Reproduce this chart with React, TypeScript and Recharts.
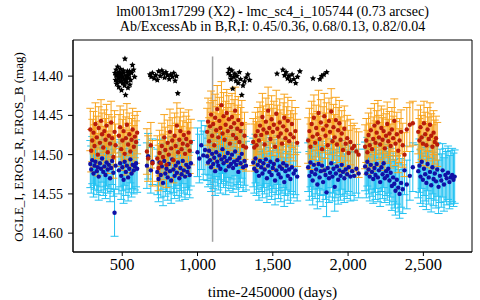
import { ErrorBar, ReferenceArea, ReferenceLine, Scatter, ScatterChart, XAxis, YAxis } from "recharts"

const FONT = "Liberation Serif, DejaVu Serif, serif"

// EROS seasons: days (time-2450000), R mag, B mag (null = no point)
const s1Days = [288, 294, 301, 309, 316, 322, 331, 338, 344, 352, 359, 366, 374, 381, 389, 396, 404, 411, 419, 426, 433, 441, 449, 456, 478, 486, 493, 501, 509, 516, 524, 531, 539, 547, 554, 562, 569, 577, 584, 592, 599]
const s1R = [14.468, 14.495, 14.482, 14.472, 14.489, 14.461, 14.478, 14.5, 14.466, 14.485, 14.457, 14.474, 14.491, 14.47, 14.481, 14.463, 14.497, 14.476, 14.486, 14.459, 14.479, 14.503, 14.471, 14.488, 14.476, 14.465, 14.493, 14.482, 14.47, 14.499, 14.479, 14.462, 14.487, 14.474, 14.496, 14.481, 14.468, 14.49, 14.477, 14.484, 14.472]
const s1B = [14.512, 14.519, 14.507, 14.524, 14.514, 14.509, 14.521, 14.516, 14.528, 14.511, 14.518, 14.505, 14.522, 14.515, 14.526, 14.51, 14.519, 14.513, 14.53, 14.517, 14.508, 14.523, 14.574, 14.514, 14.52, 14.511, 14.527, 14.516, 14.532, 14.509, 14.522, 14.514, 14.529, 14.518, 14.506, 14.524, 14.513, 14.52, 14.515, 14.511, 14.518]

const s2Days = [664, 672, 690, 701, 733, 741, 748, 756, 763, 771, 779, 786, 794, 802, 809, 817, 825, 832, 840, 848, 855, 863, 871, 879, 886, 894, 902, 909, 917, 925, 933, 941, 948, 956]
const s2R = [14.496, 14.505, 14.488, 14.511, 14.505, 14.517, 14.498, 14.511, 14.489, 14.503, 14.478, 14.494, 14.513, 14.485, 14.5, 14.471, 14.492, 14.482, 14.507, 14.476, 14.489, 14.463, 14.497, 14.481, 14.47, 14.493, 14.486, 14.475, 14.499, 14.48, 14.488, 14.472, 14.495, 14.484]
const s2B = [14.514, 14.502, 14.52, 14.509, 14.522, 14.531, 14.51, 14.526, 14.515, 14.536, 14.508, 14.524, 14.518, 14.529, 14.512, 14.521, 14.533, 14.506, 14.519, 14.527, 14.514, 14.523, 14.51, 14.53, 14.517, 14.525, 14.508, 14.52, 14.528, 14.513, 14.522, 14.516, 14.526, 14.511]

const s3Days = [1000, 1012, 1025, 1038, 1050, 1064, 1070, 1077, 1083, 1090, 1097, 1104, 1111, 1117, 1124, 1131, 1138, 1145, 1152, 1159, 1166, 1173, 1180, 1187, 1194, 1201, 1208, 1215, 1222, 1229, 1236, 1243, 1250, 1257, 1264, 1271, 1278, 1286, 1294, 1303, 1312, 1322]
const s3R = [null, null, null, null, null, 14.471, 14.458, 14.483, 14.464, 14.449, 14.476, 14.461, 14.488, 14.453, 14.469, 14.442, 14.478, 14.457, 14.466, 14.437, 14.473, 14.451, 14.481, 14.462, 14.447, 14.47, 14.455, 14.486, 14.465, 14.452, 14.475, 14.46, 14.444, 14.479, 14.467, 14.456, 14.484, 14.47, 14.461, 14.489, 14.476, 14.491]
const s3B = [14.497, 14.505, 14.488, 14.501, 14.494, 14.502, 14.51, 14.495, 14.507, 14.516, 14.499, 14.512, 14.504, 14.521, 14.497, 14.509, 14.514, 14.501, 14.518, 14.506, 14.493, 14.511, 14.503, 14.52, 14.508, 14.498, 14.515, 14.505, 14.512, 14.5, 14.517, 14.509, 14.496, 14.513, 14.507, 14.522, 14.504, 14.511, 14.499, 14.516, 14.508, 14.514]

const s4Days = [1370, 1377, 1385, 1392, 1400, 1408, 1415, 1423, 1431, 1438, 1446, 1454, 1461, 1469, 1477, 1484, 1492, 1500, 1507, 1515, 1523, 1530, 1538, 1546, 1553, 1561, 1569, 1576, 1584, 1592, 1600, 1608, 1617, 1627, 1638, 1650, 1662]
const s4R = [14.484, 14.491, 14.476, 14.488, 14.47, 14.482, 14.463, 14.475, 14.452, 14.468, 14.487, 14.458, 14.472, 14.444, 14.466, 14.48, 14.455, 14.471, 14.462, 14.49, 14.448, 14.467, 14.477, 14.459, 14.473, 14.486, 14.464, 14.453, 14.479, 14.469, 14.457, 14.483, 14.474, 14.461, 14.478, 14.47, 14.485]
const s4B = [14.51, 14.518, 14.505, 14.521, 14.513, 14.527, 14.508, 14.516, 14.524, 14.511, 14.519, 14.506, 14.53, 14.514, 14.522, 14.509, 14.526, 14.517, 14.512, 14.533, 14.52, 14.507, 14.525, 14.515, 14.529, 14.518, 14.511, 14.535, 14.521, 14.514, 14.527, 14.519, 14.531, 14.516, 14.524, 14.52, 14.528]

const s5Days = [1735, 1743, 1750, 1758, 1765, 1773, 1781, 1788, 1796, 1804, 1811, 1819, 1827, 1834, 1842, 1850, 1857, 1865, 1873, 1880, 1888, 1896, 1903, 1911, 1919, 1926, 1934, 1942, 1950, 1958, 1966, 1975, 1984, 1994, 2004, 2015, 2027, 2040, 2055, 2070]
const s5R = [14.482, 14.47, 14.49, 14.461, 14.477, 14.453, 14.485, 14.466, 14.474, 14.447, 14.48, 14.459, 14.493, 14.468, 14.451, 14.476, 14.463, 14.488, 14.457, 14.471, 14.445, 14.483, 14.465, 14.478, 14.456, 14.487, 14.469, 14.46, 14.481, 14.473, 14.494, 14.467, 14.486, 14.479, 14.498, 14.484, 14.492, 14.489, 14.496, 14.5]
const s5B = [14.516, 14.527, 14.51, 14.522, 14.533, 14.513, 14.525, 14.519, 14.538, 14.512, 14.529, 14.521, 14.514, 14.535, 14.52, 14.526, 14.548, 14.517, 14.53, 14.523, 14.511, 14.528, 14.518, 14.541, 14.524, 14.515, 14.532, 14.52, 14.527, 14.513, 14.522, 14.53, 14.519, 14.525, 14.516, 14.528, 14.521, 14.527, 14.518, 14.524]

const s6Days = [2113, 2121, 2128, 2136, 2144, 2151, 2159, 2167, 2175, 2182, 2190, 2198, 2205, 2213, 2221, 2229, 2236, 2244, 2252, 2260, 2267, 2275, 2283, 2291, 2299, 2307, 2315, 2324, 2333, 2342, 2352, 2363, 2375, 2390, 2410, 2430]
const s6R = [14.49, 14.482, 14.497, 14.475, 14.488, 14.469, 14.493, 14.48, 14.463, 14.485, 14.472, 14.459, 14.478, 14.487, 14.466, 14.481, 14.47, 14.492, 14.476, 14.461, 14.483, 14.473, 14.489, 14.468, 14.479, 14.457, 14.486, 14.474, 14.495, 14.482, 14.471, 14.488, 14.5, 14.468, 14.462, 14.46]
const s6B = [14.515, 14.524, 14.509, 14.519, 14.528, 14.513, 14.522, 14.531, 14.517, 14.526, 14.512, 14.529, 14.52, 14.535, 14.516, 14.525, 14.511, 14.53, 14.521, 14.527, 14.518, 14.533, 14.523, 14.54, 14.529, 14.537, 14.546, 14.532, 14.542, 14.55, 14.536, 14.544, 14.52, 14.538, 14.527, 14.516]

const s7Days = [2466, 2474, 2481, 2489, 2497, 2504, 2512, 2520, 2528, 2536, 2544, 2552, 2560, 2568, 2576, 2584, 2592, 2601, 2610, 2619, 2628, 2637, 2646, 2655, 2664, 2673, 2682, 2691, 2700, 2708]
const s7R = [14.471, 14.482, 14.465, 14.478, 14.486, 14.46, 14.474, 14.488, 14.468, 14.48, 14.462, 14.476, 14.49, 14.472, 14.484, 14.479, 14.487, null, null, null, null, null, null, null, null, null, null, null, null, null]
const s7B = [14.521, 14.514, 14.528, 14.509, 14.532, 14.518, 14.525, 14.536, 14.512, 14.529, 14.522, 14.539, 14.516, 14.531, 14.524, 14.534, 14.519, 14.541, 14.527, 14.533, 14.52, 14.538, 14.526, 14.53, 14.523, 14.535, 14.529, 14.526, 14.532, 14.528]

// typical error bar half-length per season
const errR = [0.027, 0.029, 0.03, 0.03, 0.029, 0.028, 0.028]
const errB = [0.03, 0.029, 0.031, 0.031, 0.031, 0.031, 0.034]

// OGLE I (black stars)
const starDays = [452, 456, 460, 463, 467, 470, 474, 477, 481, 485, 488, 492, 495, 499, 503, 507, 511, 515, 518, 522, 526, 530, 534, 538, 542, 546, 551, 556, 562, 568, 575, 582,
  458, 465, 472, 479, 486, 494, 501, 509, 520, 528, 536, 548,
  684, 692, 700, 712, 722, 733, 742, 752, 763, 772, 781, 790, 800, 812, 822, 833, 842, 851, 860, 869,
  1205, 1211, 1217, 1222, 1228, 1234, 1240, 1248, 1255, 1262, 1270, 1278, 1286, 1294, 1302, 1312, 1322, 1334, 1346,
  1528, 1567, 1578, 1588, 1598, 1607, 1617, 1628, 1640, 1652, 1664, 1680, 1767, 1813, 1825, 1840, 1858]
const starMag = [14.396, 14.405, 14.392, 14.41, 14.399, 14.388, 14.403, 14.414, 14.395, 14.407, 14.391, 14.401, 14.418, 14.397, 14.409, 14.393, 14.404, 14.412, 14.378, 14.424, 14.4, 14.408, 14.394, 14.415, 14.402, 14.398, 14.411, 14.405, 14.396, 14.386, 14.392, 14.401,
  14.399, 14.407, 14.396, 14.402, 14.398, 14.406, 14.401, 14.396, 14.407, 14.403, 14.399, 14.394,
  14.398, 14.401, 14.396, 14.403, 14.399, 14.405, 14.394, 14.4, 14.393, 14.397, 14.402, 14.395, 14.399, 14.404, 14.398, 14.401, 14.396, 14.406, 14.4, 14.422,
  14.396, 14.391, 14.399, 14.404, 14.393, 14.416, 14.401, 14.397, 14.406, 14.4, 14.409, 14.395, 14.404, 14.424, 14.412, 14.407, 14.402, 14.398, 14.405,
  14.397, 14.392, 14.399, 14.395, 14.403, 14.4, 14.406, 14.398, 14.404, 14.409, 14.401, 14.394, 14.403, 14.404, 14.4, 14.398, 14.395]

const xTicks = [500, 1000, 1500, 2000, 2500]
const yTicks = [14.4, 14.45, 14.5, 14.55, 14.6]

const seasons = [
  [s1Days, s1R, s1B], [s2Days, s2R, s2B], [s3Days, s3R, s3B], [s4Days, s4R, s4B],
  [s5Days, s5R, s5B], [s6Days, s6R, s6B], [s7Days, s7R, s7B],
]

const rData: { day: number; mag: number; err: number }[] = []
const bData: { day: number; mag: number; err: number }[] = []
seasons.forEach(([days, r, b], si) => {
  days.forEach((d, i) => {
    if (r[i] != null) rData.push({ day: d as number, mag: r[i] as number, err: errR[si] })
    if (b[i] != null) bData.push({ day: d as number, mag: b[i] as number, err: errB[si] })
  })
})
const starData = starDays.map((d, i) => ({ day: d, mag: starMag[i] }))

const X0 = 173
const X1 = 2823
const Y0 = 14.354
const Y1 = 14.624

const noShape = () => <g />
const dot = (color: string) => (p: any) => <circle cx={p.cx} cy={p.cy} r={2.2} fill={color} />

// small 5-point star marker
const star = (p: any) => {
  const pts: string[] = []
  for (let k = 0; k < 10; k++) {
    const r = k % 2 === 0 ? 3.3 : 1.6
    const a = -Math.PI / 2 + (k * Math.PI) / 5
    pts.push(`${p.cx + r * Math.cos(a)},${p.cy + r * Math.sin(a)}`)
  }
  return <polygon points={pts.join(" ")} fill="#000" />
}

const tickStyle = (size: number) => ({ fontSize: size, fill: "#000", fontFamily: FONT, style: { fontFamily: FONT } })

export default function App() {
  return (
    <div style={{ position: "absolute", left: 0, top: 0, width: 480, height: 300, background: "#fff", fontFamily: FONT }}>
      <ScatterChart width={480} height={300} margin={{ top: 40, right: 8, bottom: 0, left: 0 }}>
        <XAxis
          type="number"
          dataKey="day"
          domain={[X0, X1]}
          ticks={xTicks}
          allowDataOverflow
          height={48}
          tickSize={4}
          tickMargin={2}
          tickFormatter={(v) => v.toLocaleString("en-US")}
          tick={tickStyle(16.5)}
          axisLine={{ stroke: "#000" }}
          tickLine={{ stroke: "#000" }}
        />
        <YAxis
          type="number"
          dataKey="mag"
          reversed
          domain={[Y0, Y1]}
          ticks={yTicks}
          allowDataOverflow
          width={73}
          tickSize={5}
          tickMargin={5}
          tickFormatter={(v) => v.toFixed(2)}
          tick={tickStyle(14)}
          axisLine={{ stroke: "#000" }}
          tickLine={{ stroke: "#000" }}
        />
        <ReferenceLine
          segment={[{ x: 1100, y: 14.375 }, { x: 1100, y: 14.611 }]}
          stroke="#a0a0a0"
          strokeWidth={1.5}
        />
        <Scatter data={bData} shape={noShape} isAnimationActive={false}>
          <ErrorBar dataKey="err" direction="y" width={4} stroke="#22c2f2" strokeWidth={1} isAnimationActive={false} />
        </Scatter>
        <Scatter data={rData} shape={noShape} isAnimationActive={false}>
          <ErrorBar dataKey="err" direction="y" width={4} stroke="#f8a41e" strokeWidth={1} isAnimationActive={false} />
        </Scatter>
        <Scatter data={bData} shape={dot("#1010a6")} isAnimationActive={false} />
        <Scatter data={rData} shape={dot("#b81c0a")} isAnimationActive={false} />
        <Scatter data={starData} shape={star} isAnimationActive={false} />
        <ReferenceArea x1={X0} x2={X1} y1={Y0} y2={Y1} fill="none" stroke="#000" strokeWidth={1} />
      </ScatterChart>
      <svg width={480} height={300} style={{ position: "absolute", left: 0, top: 0, pointerEvents: "none", fontFamily: FONT }}>
        <g fill="#000" textAnchor="middle">
          <text x={272.5} y={16} fontSize={14}>lm0013m17299 (X2) - lmc_sc4_i_105744 (0.73 arcsec)</text>
          <text x={272.5} y={31} fontSize={14}>Ab/ExcessAb in B,R,I: 0.45/0.36, 0.68/0.13, 0.82/0.04</text>
          <text x={272.5} y={297} fontSize={15.5}>time-2450000 (days)</text>
          <text x={22.5} y={147} fontSize={13} transform="rotate(-90 22.5 147)">OGLE_I, EROS_R, EROS_B (mag)</text>
        </g>
      </svg>
    </div>
  )
}
